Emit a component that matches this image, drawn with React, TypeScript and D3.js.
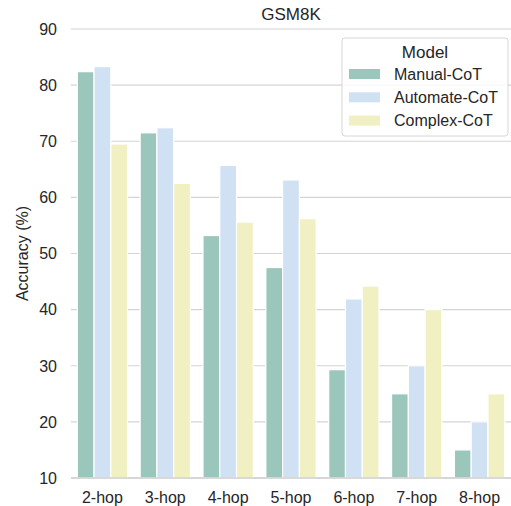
import React from 'react';
import * as d3 from 'd3';

const hops = ['2-hop', '3-hop', '4-hop', '5-hop', '6-hop', '7-hop', '8-hop'];
const models = ['Manual-CoT', 'Automate-CoT', 'Complex-CoT'];
const manualCot = [82.4, 71.5, 53.2, 47.5, 29.3, 25, 15];
const automateCot = [83.3, 72.4, 65.7, 63.1, 41.9, 30, 20];
const complexCot = [69.5, 62.5, 55.6, 56.2, 44.2, 40, 25];
const yTicks = [10, 20, 30, 40, 50, 60, 70, 80, 90];

const seriesValues = [manualCot, automateCot, complexCot];
const colors = ['#9bc6bb', '#cfe1f2', '#f0f0c2'];

const W = 511;
const H = 506;
const margin = { top: 29, right: 0, bottom: 28, left: 71 };
const font = 'Liberation Sans, Arial, sans-serif';
const ink = '#262626';

export default function App() {
  const x = d3.scaleBand<string>().domain(hops).range([margin.left, W - margin.right]).padding(0);
  const bw = x.bandwidth();
  const inner = d3.scaleBand<string>().domain(models).range([0, bw * 0.8]).padding(0);
  const y = d3.scaleLinear().domain([10, 90]).range([H - margin.bottom, margin.top]);

  const legendX = 342;
  const legendY = 38;

  return (
    <svg width={W} height={H} style={{ position: 'absolute', left: 0, top: 0, background: '#fff' }} fontFamily={font}>
      <text x={(margin.left + W - margin.right) / 2} y={19.5} textAnchor="middle" fontSize={17} fill={ink}>GSM8K</text>

      {yTicks.map(t => (
        <g key={t}>
          <line x1={margin.left} x2={W - margin.right} y1={y(t)} y2={y(t)} stroke="#d4d4d4" strokeWidth={1.1} />
          <text x={margin.left - 14} y={y(t)} dy="0.36em" textAnchor="end" fontSize={16} fill={ink}>{t}</text>
        </g>
      ))}

      {seriesValues.map((vals, si) => (
        <g key={models[si]}>
          {vals.map((v, i) => (
            <rect
              key={hops[i]}
              x={(x(hops[i]) ?? 0) + bw * 0.1 + (inner(models[si]) ?? 0)}
              y={y(v)}
              width={inner.bandwidth()}
              height={y(10) - y(v)}
              fill={colors[si]}
              stroke="#fff"
              strokeWidth={1.2}
            />
          ))}
        </g>
      ))}

      <line x1={margin.left} x2={W - margin.right} y1={y(10)} y2={y(10)} stroke="#cfcfcf" strokeWidth={1.3} />

      {hops.map(h => (
        <text key={h} x={(x(h) ?? 0) + bw / 2} y={H - 3.5} textAnchor="middle" fontSize={16} fill={ink}>{h}</text>
      ))}

      <text transform={`translate(28,${(margin.top + H - margin.bottom) / 2}) rotate(-90)`} textAnchor="middle" fontSize={16} fill={ink}>Accuracy (%)</text>

      <g transform={`translate(${legendX},${legendY})`}>
        <rect x={0} y={0} width={166} height={98} rx={3} fill="#fff" fillOpacity={0.85} stroke="#d6d6d6" />
        <text x={83} y={20} textAnchor="middle" fontSize={17} fill={ink}>Model</text>
        {models.map((m, i) => (
          <g key={m} transform={`translate(0,${36 + i * 23.3})`}>
            <rect x={7} y={-5} width={31} height={10} fill={colors[i]} />
            <text x={52} y={0} dy="0.36em" fontSize={16} fill={ink}>{m}</text>
          </g>
        ))}
      </g>
    </svg>
  );
}
